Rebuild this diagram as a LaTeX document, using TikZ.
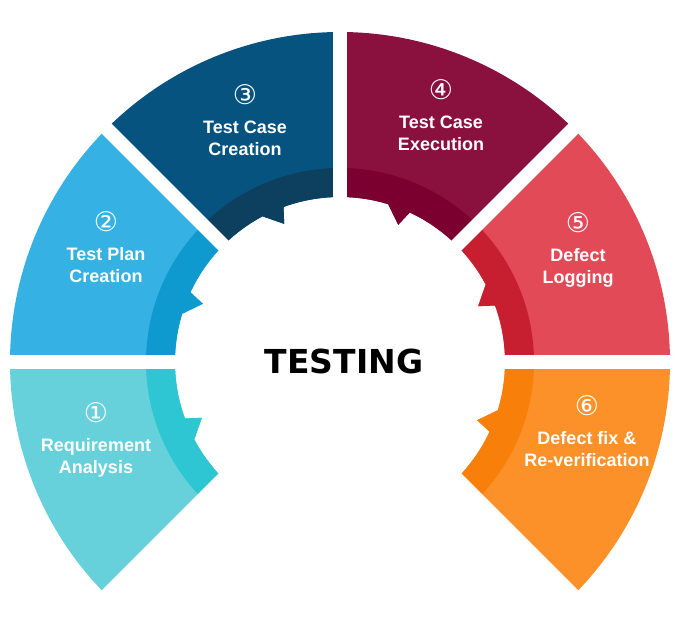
\documentclass[tikz,border=0pt]{standalone}
\usepackage{fontspec}
\setmainfont{Liberation Sans}
\newfontfamily\dejavu{DejaVu Sans}
\usepackage{tikz}
\usetikzlibrary{positioning}
\usepackage{xcolor}
\definecolor{c1}{HTML}{67D1DB}\definecolor{d1}{HTML}{2EC6D3}
\definecolor{c2}{HTML}{35B1E3}\definecolor{d2}{HTML}{0E9ACF}
\definecolor{c3}{HTML}{07537F}\definecolor{d3}{HTML}{0D3F5F}
\definecolor{c4}{HTML}{8A103D}\definecolor{d4}{HTML}{7B002F}
\definecolor{c5}{HTML}{E24A58}\definecolor{d5}{HTML}{C81F30}
\definecolor{c6}{HTML}{FC9029}\definecolor{d6}{HTML}{F87F0A}
\tikzset{
  so/.style={font=\dejavu\fontsize{27}{27}\selectfont, text=white, inner sep=0pt},
  nhan/.style={font=\bfseries\fontsize{18}{22}\selectfont, text=white, align=center, inner sep=0pt},
  khe/.style={white, line width=14pt},
}

\begin{document}
\begin{tikzpicture}[x=1pt, y=1pt]
    \useasboundingbox (-340,-266) rectangle (344,362);
    % Vẽ sáu phần của vòng cung (phần ngoài và dải trong có mũi nhọn)
    \foreach \i/\mau/\dam in {1/c1/d1, 2/c2/d2, 3/c3/d3, 4/c4/d4, 5/c5/d5, 6/c6/d6} {
        \pgfmathsetmacro{\a}{225-45*\i}
        \fill[\mau] (\a:165) -- (\a:330) arc[start angle=\a, end angle=\a+45, radius=330]
            -- (\a+45:165) arc[start angle=\a+45, end angle=\a+28, radius=165]
            -- (\a+22:149) -- (\a+20:165) arc[start angle=\a+20, end angle=\a, radius=165] -- cycle;
        \fill[\dam] (\a:165) -- (\a:194) arc[start angle=\a, end angle=\a+45, radius=194]
            -- (\a+45:165) arc[start angle=\a+45, end angle=\a+28, radius=165]
            -- (\a+22:149) -- (\a+20:165) arc[start angle=\a+20, end angle=\a, radius=165] -- cycle;
    }

    % Khe trắng giữa các phần
    \foreach \g in {-45,0,45,90,135,180,225}
        \draw[khe] (0,0) -- (\g:345);

    % Số thứ tự và nhãn của từng bước
    \foreach \i/\so/\px/\py/\txt in {
        1/①/-244/-51/{Requirement\\Analysis},
        2/②/-234/140/{Test Plan\\Creation},
        3/③/-95/267/{Test Case\\Creation},
        4/④/101/272/{Test Case\\Execution},
        5/⑤/238/139/{Defect\\Logging},
        6/⑥/247/-44/{Defect fix \&\\Re-verification}} {
        \node[so] (so\i) at (\px,\py) {\so};
        \node[nhan, below=15pt of so\i] (nhan\i) {\txt};
    }

    % Chữ ở giữa
    \node[font=\dejavu\bfseries\fontsize{33}{33}\selectfont] (testing) at (4,1) {TESTING};
\end{tikzpicture}
\end{document}
